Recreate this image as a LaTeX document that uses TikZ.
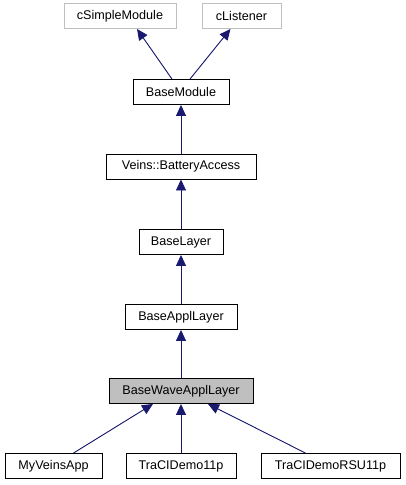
\documentclass[tikz,border=0pt]{standalone}
\usepackage{fontspec}
\setmainfont{Liberation Sans}
\usetikzlibrary{arrows.meta,calc}
\definecolor{edgeblue}{HTML}{191970}
\definecolor{greyline}{HTML}{BFBFBF}
\definecolor{greyfill}{HTML}{BFBFBF}
\begin{document}
\begin{tikzpicture}[x=1pt,y=-1pt,
  cls/.style={draw=black,line width=0.9pt,fill=white,minimum height=25pt,inner xsep=0pt,inner ysep=0pt,font=\fontsize{12.6}{15}\selectfont,text=black},
  ext/.style={cls,draw=greyline},
  cur/.style={cls,fill=greyfill},
  inh/.style={draw=edgeblue,line width=0.9pt,-{Triangle[length=11pt,width=10pt]},fill=edgeblue}]
\useasboundingbox (0,0) rectangle (405,485);
\node[ext,minimum width=112pt] (csm) at (120,16) {cSimpleModule};
\node[ext,minimum width=79pt] (cl) at (241.5,16) {cListener};
\node[cls,minimum width=96pt] (bm) at (181,92) {BaseModule};
\node[cls,minimum width=150pt] (vba) at (181,166.5) {Veins::BatteryAccess};
\node[cls,minimum width=84pt] (bl) at (181,242) {BaseLayer};
\node[cls,minimum width=112pt] (bal) at (181,317) {BaseApplLayer};
\node[cur,minimum width=144pt] (bwal) at (181,391) {BaseWaveApplLayer};
\node[cls,minimum width=97pt] (mva) at (53.5,466) {MyVeinsApp};
\node[cls,minimum width=110pt] (td) at (181,466) {TraCIDemo11p};
\node[cls,minimum width=139pt] (rsu) at (330.5,466) {TraCIDemoRSU11p};
\draw[inh] ($(bm.north)+(-9,0)$) -- ($(csm.south)+(17,0)$);
\draw[inh] ($(bm.north)+(9,0)$) -- ($(cl.south)+(-11,0)$);
\draw[inh] (vba.north) -- (bm.south);
\draw[inh] (bl.north) -- (vba.south);
\draw[inh] (bal.north) -- (bl.south);
\draw[inh] (bwal.north) -- (bal.south);
\draw[inh] ($(mva.north)+(20,0)$) -- ($(bwal.south)+(-28,0)$);
\draw[inh] (td.north) -- (bwal.south);
\draw[inh] ($(rsu.north)+(-25,0)$) -- ($(bwal.south)+(27,0)$);
\end{tikzpicture}
\end{document}
